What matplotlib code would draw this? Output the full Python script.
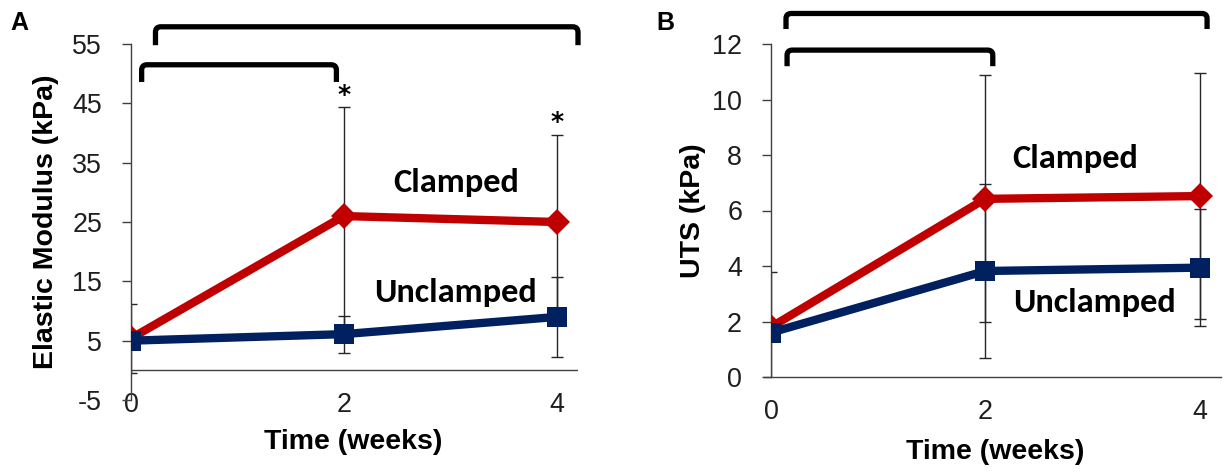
import matplotlib
matplotlib.use("Agg")
import matplotlib.pyplot as plt
from matplotlib import font_manager
from matplotlib.font_manager import FontProperties
from matplotlib.textpath import TextPath
from matplotlib.path import Path
from matplotlib.patches import PathPatch

plt.rcParams["axes.unicode_minus"] = False

# ---------------- data ----------------
weeks = [0, 2, 4]

# Panel A: Elastic modulus (kPa)
a_clamped = [5.4, 26.0, 25.0]
a_clamped_err = [5.8, 18.4, 14.6]
a_unclamped = [5.0, 6.1, 9.0]
a_unclamped_err = [0.8, 3.1, 6.7]
a_yticks = [-5, 5, 15, 25, 35, 45, 55]

# Panel B: UTS (kPa)
b_clamped = [1.8, 6.42, 6.52]
b_clamped_err = [2.0, 4.45, 4.43]
b_unclamped = [1.6, 3.82, 3.94]
b_unclamped_err = [0.3, 3.15, 2.1]
b_yticks = [0, 2, 4, 6, 8, 10, 12]

RED = "#C00000"
NAVY = "#002060"
W, H = 1226, 472

installed = {f.name for f in font_manager.fontManager.ttflist}


def pick(prefs):
    for p in prefs:
        if p in installed:
            return [p, "DejaVu Sans"]
    return ["DejaVu Sans"]


num_font = pick(["Liberation Sans", "Arimo", "Arial"])
lab_font = pick(["Liberation Sans", "Arimo", "Arial"])
txt_font = pick(["Carlito", "Calibri", "Lato"])


def size_for_height(text, family, px, weight="normal"):
    tp = TextPath((0, 0), text, size=100,
                  prop=FontProperties(family=family, weight=weight))
    return 100 * (px * 0.72) / tp.get_extents().height


def size_for_width(text, family, px, weight="normal"):
    tp = TextPath((0, 0), text, size=100,
                  prop=FontProperties(family=family, weight=weight))
    return 100 * (px * 0.72) / tp.get_extents().width


NUM_SIZE = size_for_height("0", num_font, 19)
CLAMP_SIZE = size_for_width("Clamped", txt_font, 123, "bold")

fig = plt.figure(figsize=(W / 100, H / 100), dpi=100)


def bracket(ax, x0, x1, ylow, ytop, rx, ry):
    verts = [(x0, ylow), (x0, ytop - ry), (x0, ytop), (x0 + rx, ytop),
             (x1 - rx, ytop), (x1, ytop), (x1, ytop - ry), (x1, ylow)]
    codes = [Path.MOVETO, Path.LINETO, Path.CURVE3, Path.CURVE3,
             Path.LINETO, Path.CURVE3, Path.CURVE3, Path.LINETO]
    p = PathPatch(Path(verts, codes), fill=False, lw=3.8, color="black",
                  clip_on=False, capstyle="butt", joinstyle="round")
    ax.add_patch(p)


def style_axes(ax, yticks):
    for s in ["top", "right"]:
        ax.spines[s].set_visible(False)
    ax.spines["left"].set_color("#404040")
    ax.spines["left"].set_linewidth(1.0)
    ax.set_yticks(yticks)
    ax.set_xticks(weeks)
    ax.set_xticklabels([str(w) for w in weeks])
    ax.tick_params(axis="y", direction="out", length=6.3, width=1.0,
                   color="#404040", pad=14.5)
    for lab in ax.get_xticklabels() + ax.get_yticklabels():
        lab.set_family(num_font)
        lab.set_fontsize(NUM_SIZE)
        lab.set_color("#1f1f1f")


def draw_series(ax, c, ce, u, ue):
    ax.errorbar(weeks, c, yerr=ce, fmt="none", ecolor="#262626",
                elinewidth=1.0, capsize=4.5, capthick=1.0, zorder=2)
    ax.errorbar(weeks, u, yerr=ue, fmt="none", ecolor="#262626",
                elinewidth=1.0, capsize=4.5, capthick=1.0, zorder=2)
    ax.plot(weeks, c, color=RED, lw=6, marker="D", markersize=13,
            markeredgewidth=0, zorder=3, solid_joinstyle="miter")
    ax.plot(weeks, u, color=NAVY, lw=6, marker="s", markersize=15,
            markeredgewidth=0, zorder=4)


LABEL_SIZE = 20.5

# ---------------- Panel A ----------------
axA = fig.add_axes([131 / W, 1 - 400 / H, 447 / W, 356 / H])
axA.set_xlim(0, 4.2)
axA.set_ylim(-5, 55)
style_axes(axA, a_yticks)
axA.spines["bottom"].set_visible(False)
axA.axhline(0, color="#404040", lw=1.0, zorder=1)
axA.tick_params(axis="x", length=0, pad=-6)
draw_series(axA, a_clamped, a_clamped_err, a_unclamped, a_unclamped_err)

axA.set_ylabel("Elastic Modulus (kPa)", family=lab_font,
               fontsize=LABEL_SIZE, fontweight="bold")
axA.yaxis.set_label_coords(-0.190, 0.5)
axA.yaxis.label.set_va("center")
axA.set_xlabel("Time (weeks)", family=lab_font, fontsize=LABEL_SIZE,
               fontweight="bold")
axA.xaxis.set_label_coords(0.497, -0.118)
axA.xaxis.label.set_va("center")

axA.text(3.06, 31.7, "Clamped", family=txt_font, fontsize=CLAMP_SIZE,
         fontweight="bold", ha="center", va="center")
axA.text(3.05, 13.2, "Unclamped", family=txt_font, fontsize=CLAMP_SIZE,
         fontweight="bold", ha="center", va="center")
axA.text(2.0, 46.4, "*", fontsize=18, fontweight="bold", ha="center",
         va="center")
axA.text(4.0, 41.9, "*", fontsize=18, fontweight="bold", ha="center",
         va="center")

bracket(axA, 0.23, 4.2, 54.8, 57.9, 0.05, 0.9)
bracket(axA, 0.10, 1.93, 48.6, 51.5, 0.05, 0.9)

fig.text(19.5 / W, 1 - 23.5 / H, "A", family=lab_font, fontsize=18,
         fontweight="bold", ha="center", va="center")

# ---------------- Panel B ----------------
axB = fig.add_axes([771 / W, 1 - 377 / H, 450 / W, 333 / H])
axB.set_xlim(0, 4.2)
axB.set_ylim(0, 12)
style_axes(axB, b_yticks)
axB.spines["bottom"].set_color("#404040")
axB.spines["bottom"].set_linewidth(1.0)
axB.spines["bottom"].set_bounds(-0.07, 4.2)
axB.tick_params(axis="x", length=0, pad=16)
draw_series(axB, b_clamped, b_clamped_err, b_unclamped, b_unclamped_err)

axB.set_ylabel("UTS (kPa)", family=lab_font, fontsize=LABEL_SIZE,
               fontweight="bold")
axB.yaxis.set_label_coords(-0.173, 0.5)
axB.yaxis.label.set_va("center")
axB.set_xlabel("Time (weeks)", family=lab_font, fontsize=LABEL_SIZE,
               fontweight="bold")
axB.xaxis.set_label_coords(0.498, -0.225)
axB.xaxis.label.set_va("center")

axB.text(2.84, 7.86, "Clamped", family=txt_font, fontsize=CLAMP_SIZE,
         fontweight="bold", ha="center", va="center")
axB.text(3.02, 2.67, "Unclamped", family=txt_font, fontsize=CLAMP_SIZE,
         fontweight="bold", ha="center", va="center")

bracket(axB, 0.14, 4.07, 12.54, 13.1, 0.05, 0.18)
bracket(axB, 0.15, 2.07, 11.2, 11.78, 0.05, 0.18)

fig.text(665 / W, 1 - 23.5 / H, "B", family=lab_font, fontsize=18,
         fontweight="bold", ha="center", va="center")

fig.savefig("out.png", dpi=100)
